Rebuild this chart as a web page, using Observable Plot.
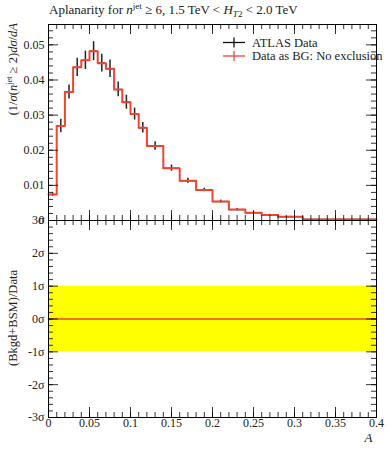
<!DOCTYPE html>
<html><head><meta charset="utf-8">
<script src="https://cdn.jsdelivr.net/npm/d3@7"></script>
<script src="https://cdn.jsdelivr.net/npm/@observablehq/plot@0.6"></script>
<style>
body{margin:0;background:#fff;}
#wrap{position:relative;width:389px;height:450px;overflow:hidden;}
#wrap svg{position:absolute;left:0;background:transparent !important;font-family:"Liberation Serif",serif;}
</style></head>
<body><div id="wrap"></div>
<script>
// ---- data ----
const binLow  = [0,0.01,0.02,0.03,0.04,0.05,0.06,0.07,0.08,0.09,0.10,0.11,0.12,0.14,0.16,0.18,0.20,0.22,0.24,0.26,0.28,0.31];
const binHigh = [0.01,0.02,0.03,0.04,0.05,0.06,0.07,0.08,0.09,0.10,0.11,0.12,0.14,0.16,0.18,0.20,0.22,0.24,0.26,0.28,0.31,0.40];
const atlasData = [0.0074,0.0269,0.0366,0.0436,0.0456,0.0482,0.0448,0.0432,0.0373,0.0337,0.0303,0.0264,0.0212,0.0149,0.0113,0.0087,0.0054,0.0031,0.0022,0.0016,0.0011,0.0003];
const atlasErr  = [0.0005,0.0019,0.0020,0.0026,0.0026,0.0027,0.0025,0.0025,0.0021,0.0020,0.0017,0.0015,0.0012,0.0009,0.0007,0.0005,0.0004,0.0003,0.0002,0.0002,0.0001,0.0001];
const bgData    = atlasData.slice(); // "Data as BG: No exclusion" equals data
const ratioSigma = binLow.map(() => 0);
const bandLow = -1, bandHigh = 1;
const xTickLabels = [0,0.05,0.1,0.15,0.2,0.25,0.3,0.35,0.4];
const yTickLabels = [0,0.01,0.02,0.03,0.04,0.05];
const rTickLabels = [3,2,1,0,-1,-2,-3];

const W = 389, ML = 48, MR = 13;
const fw = W - ML - MR;
const RED = "#ee4433", INK = "#222";
const FONT = "Liberation Serif";

const rows = binLow.map((lo,i)=>({lo, hi: binHigh[i], c:(lo+binHigh[i])/2, v: atlasData[i], e: atlasErr[i], bg: bgData[i], r: ratioSigma[i]}));
const stepPts = rows.map(d=>({x:d.lo, y:d.bg})).concat([{x: binHigh[binHigh.length-1], y: bgData[bgData.length-1]}]);
const ratioPts = rows.map(d=>({x:d.lo, y:d.r})).concat([{x: binHigh[binHigh.length-1], y: ratioSigma[ratioSigma.length-1]}]);

const xMinor = d3.range(0, 0.4001, 0.01).map(v=>+v.toFixed(3));
const xMajor = d3.range(0, 0.4001, 0.05).map(v=>+v.toFixed(3));

function frameTicks(fh, xMin, xMaj, yMin, yMaj) {
  const s = {stroke:"black", strokeWidth:0.8};
  return [
    Plot.ruleX(xMin, {x:d=>d, insetTop: fh-5, ...s}),
    Plot.ruleX(xMaj, {x:d=>d, insetTop: fh-10, ...s}),
    Plot.ruleX(xMin, {x:d=>d, insetBottom: fh-5, ...s}),
    Plot.ruleX(xMaj, {x:d=>d, insetBottom: fh-10, ...s}),
    Plot.ruleY(yMin, {y:d=>d, insetRight: fw-5, ...s}),
    Plot.ruleY(yMaj, {y:d=>d, insetRight: fw-10, ...s}),
    Plot.ruleY(yMin, {y:d=>d, insetLeft: fw-5, ...s}),
    Plot.ruleY(yMaj, {y:d=>d, insetLeft: fw-10, ...s})
  ];
}

// ---- main panel ----
const H1 = 230, MT1 = 24, MB1 = 10, fh1 = H1 - MT1 - MB1;
const yMinor1 = d3.range(0, 0.0558, 0.002).map(v=>+v.toFixed(4));
const yMajor1 = yTickLabels;
const p1 = Plot.plot({
  width: W, height: H1, marginLeft: ML, marginRight: MR, marginTop: MT1, marginBottom: MB1,
  style: {background:"transparent", fontFamily: FONT},
  x: {domain:[0,0.4], axis:null},
  y: {domain:[0,0.0558], axis:null},
  marks: [
    Plot.ruleY(rows, {x1:"lo", x2:"hi", y:"v", stroke:INK, strokeWidth:1.2}),
    Plot.ruleX(rows, {x:"c", y1:d=>d.v-d.e, y2:d=>d.v+d.e, stroke:INK, strokeWidth:1.5}),
    Plot.line(stepPts, {x:"x", y:"y", curve:"step-after", stroke:RED, strokeWidth:2}),
    ...frameTicks(fh1, xMinor, xMajor, yMinor1, yMajor1),
    Plot.frame({stroke:"black", strokeWidth:1}),
    Plot.text(yTickLabels, {y:d=>d, frameAnchor:"left", dx:-4, textAnchor:"end", text:d=> d===0 ? "0" : String(d), fontSize:12, fill:"#222"})
  ]
});

// ---- ratio panel ----
const TOP2 = 210, H2 = 240, MT2 = 10, MB2 = 33, fh2 = H2 - MT2 - MB2;
const yMinor2 = d3.range(-3, 3.001, 0.2).map(v=>+v.toFixed(2));
const p2 = Plot.plot({
  width: W, height: H2, marginLeft: ML, marginRight: MR, marginTop: MT2, marginBottom: MB2,
  style: {background:"transparent", fontFamily: FONT},
  x: {domain:[0,0.4], axis:null},
  y: {domain:[-3,3], axis:null},
  marks: [
    Plot.rect([{x1: xTickLabels[0], x2: xTickLabels[xTickLabels.length-1], y1: bandLow, y2: bandHigh}], {x1:"x1", x2:"x2", y1:"y1", y2:"y2", fill:"#ffff00"}),
    Plot.line(ratioPts, {x:"x", y:"y", curve:"step-after", stroke:RED, strokeWidth:1.6}),
    ...frameTicks(fh2, xMinor, xMajor, yMinor2, rTickLabels),
    Plot.frame({stroke:"black", strokeWidth:1}),
    Plot.text(rTickLabels, {y:d=>d, frameAnchor:"left", dx:-4, textAnchor:"end", text:d=> (d<0?"-":"") + Math.abs(d) + "σ", fontSize:12, fill:"#222"}),
    Plot.text(xTickLabels, {x:d=>d, frameAnchor:"bottom", dy:9, text:d=>String(d), fontSize:12, fill:"#222"}),
    Plot.text(["A"], {frameAnchor:"bottom-right", dx:-4, dy:24, text:d=>d, fontStyle:"italic", fontSize:13, fill:"#222"})
  ]
});

const wrap = document.getElementById("wrap");
p1.style.top = "0px";
p2.style.top = TOP2 + "px";
wrap.appendChild(p1);
wrap.appendChild(p2);

// ---- texts in main svg ----
const s1 = d3.select(p1);
const title = s1.append("text").attr("x", 49).attr("y", 14).attr("font-size", 13).attr("fill", "#222")
  .attr("font-family", FONT).attr("text-anchor","start");
title.append("tspan").text("Aplanarity for ");
title.append("tspan").attr("font-style","italic").text("n");
title.append("tspan").attr("font-size",9).attr("dy",-5).text("jet");
title.append("tspan").attr("dy",5).text(" ≥ 6, 1.5 TeV < ");
title.append("tspan").attr("font-style","italic").text("H");
title.append("tspan").attr("font-size",9).attr("dy",3).attr("font-style","italic").text("T");
title.append("tspan").attr("font-size",9).text("2");
title.append("tspan").attr("dy",-3).text(" < 2.0 TeV");

const yl = s1.append("text").attr("transform","translate(17,23) rotate(-90)").attr("text-anchor","end")
  .attr("font-size", 12.5).attr("fill","#222").attr("font-family", FONT);
yl.append("tspan").text("(1/");
yl.append("tspan").attr("font-style","italic").text("σ");
yl.append("tspan").text("(");
yl.append("tspan").attr("font-style","italic").text("n");
yl.append("tspan").attr("font-size",8.5).attr("dy",-5).text("jet");
yl.append("tspan").attr("dy",5).text(" ≥ 2)");
yl.append("tspan").attr("font-style","italic").text("dσ");
yl.append("tspan").text("/");
yl.append("tspan").attr("font-style","italic").text("dA");

// legend
const lg = s1.append("g").attr("font-family", FONT).attr("font-size", 12.5).attr("fill","#222").attr("text-anchor","start");
const legendItems = [{name:"ATLAS Data", color:"#111", y:42.5}, {name:"Data as BG: No exclusion", color:RED, y:56}];
legendItems.forEach(it=>{
  lg.append("line").attr("x1",223).attr("x2",245).attr("y1",it.y).attr("y2",it.y).attr("stroke",it.color).attr("stroke-width",1.3);
  lg.append("line").attr("x1",234).attr("x2",234).attr("y1",it.y-5).attr("y2",it.y+5).attr("stroke",it.color).attr("stroke-width",1.3);
  lg.append("text").attr("x",252).attr("y",it.y+4.2).attr("text-anchor","start").text(it.name);
});

// ratio y label
const s2 = d3.select(p2);
s2.append("text").attr("transform",`translate(17,${318-TOP2}) rotate(-90)`).attr("text-anchor","middle")
  .attr("font-size",12.5).attr("fill","#222").attr("font-family",FONT).text("(Bkgd+BSM)/Data");
</script>
</body></html>
